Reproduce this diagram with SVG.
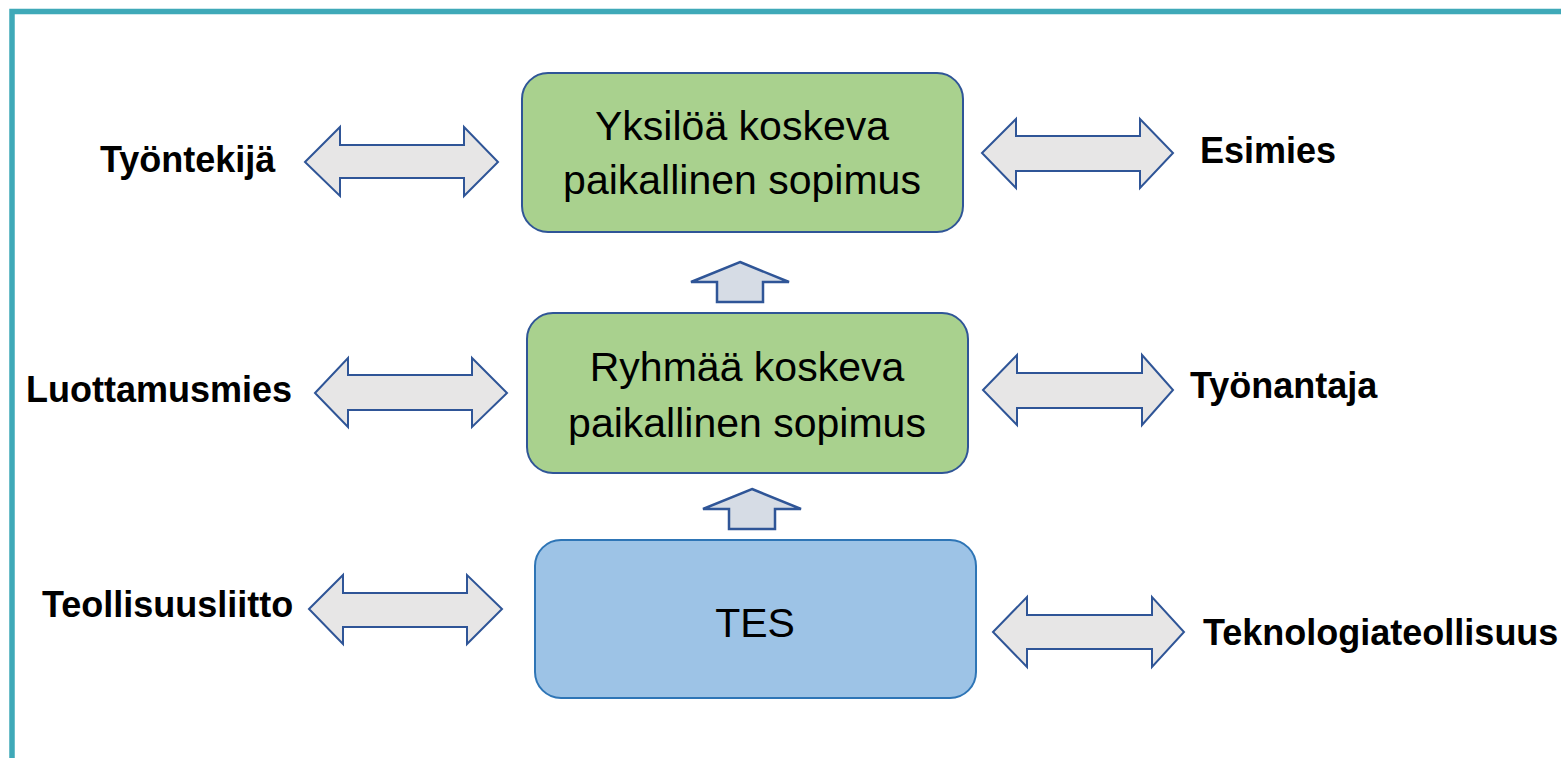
<svg xmlns="http://www.w3.org/2000/svg" width="1561" height="758" viewBox="0 0 1561 758">
<style>
.box{stroke:#2F5597;stroke-width:2}
.green{fill:#A9D18E}
.blue{fill:#9DC3E6;stroke:#2E75B6}
.dbl{fill:#E7E6E6;stroke:#2F5597;stroke-width:2;stroke-linejoin:miter}
.up{fill:#D6DCE5;stroke:#2F5597;stroke-width:2.5}
.bt{font-family:"Liberation Sans",Arial,sans-serif;font-size:41px;fill:#000;text-anchor:middle}
.lbl{font-family:"Liberation Sans",Arial,sans-serif;font-size:36px;font-weight:bold;fill:#000}
</style>
<rect width="1561" height="758" fill="#fff"/>
<rect x="12" y="11.5" width="1600" height="800" fill="none" stroke="#3FA9B8" stroke-width="5.5"/>
<g id="connectors">
<path class="dbl" d="M305,162 L340,127 L340,145 L464,145 L464,127 L498,162 L464,196 L464,178 L340,178 L340,196 Z"/>
<path class="dbl" d="M982,153 L1016,119 L1016,136 L1140,136 L1140,119 L1173,153 L1140,188 L1140,171 L1016,171 L1016,188 Z"/>
<path class="dbl" d="M315,393 L348,358 L348,375 L472,375 L472,358 L507,393 L472,427 L472,410 L348,410 L348,427 Z"/>
<path class="dbl" d="M983,390 L1017,355 L1017,373 L1142,373 L1142,355 L1173,390 L1142,425 L1142,408 L1017,408 L1017,425 Z"/>
<path class="dbl" d="M309,609 L343,575 L343,593 L467,593 L467,575 L502,609 L467,644 L467,627 L343,627 L343,644 Z"/>
<path class="dbl" d="M993,632 L1027,597 L1027,615 L1152,615 L1152,597 L1184,632 L1152,667 L1152,649 L1027,649 L1027,667 Z"/>
<path class="up" d="M740,262 L789,282 L763,282 L763,302 L717,302 L717,282 L691,282 Z"/>
<path class="up" d="M752,489 L801,509 L775,509 L775,529 L729,529 L729,509 L703,509 Z"/>
</g>
<g id="node-yksilo">
<rect class="box green" x="522" y="73" width="441" height="159" rx="26"/>
<text class="bt" x="742" y="140">Yksilöä koskeva</text>
<text class="bt" x="742" y="194">paikallinen sopimus</text>
</g>
<g id="node-ryhma">
<rect class="box green" x="527" y="313" width="441" height="160" rx="26"/>
<text class="bt" x="747" y="381">Ryhmää koskeva</text>
<text class="bt" x="747" y="437">paikallinen sopimus</text>
</g>
<g id="node-tes">
<rect class="box blue" x="535" y="540" width="441" height="158" rx="26"/>
<text class="bt" x="755" y="637">TES</text>
</g>
<g id="label-tyontekija"><text class="lbl" x="100" y="172">Työntekijä</text></g>
<g id="label-esimies"><text class="lbl" x="1200" y="163">Esimies</text></g>
<g id="label-luottamusmies"><text class="lbl" x="26" y="402">Luottamusmies</text></g>
<g id="label-tyonantaja"><text class="lbl" x="1190" y="398">Työnantaja</text></g>
<g id="label-teollisuusliitto"><text class="lbl" x="42" y="617">Teollisuusliitto</text></g>
<g id="label-teknologiateollisuus"><text class="lbl" x="1203" y="645">Teknologiateollisuus</text></g>
</svg>
